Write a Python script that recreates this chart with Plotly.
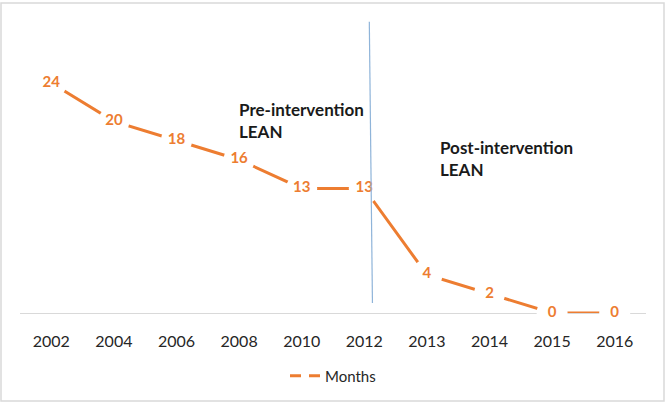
import plotly.graph_objects as go

years = ["2002", "2004", "2006", "2008", "2010", "2012", "2013", "2014", "2015", "2016"]
months = [24, 20, 18, 16, 13, 13, 4, 2, 0, 0]
series_name = "Months"
pre_label = "Pre-intervention<br>LEAN"
post_label = "Post-intervention<br>LEAN"

ORANGE = "#ED7D31"
FONT = "Lato"

fig = go.Figure()

fig.add_trace(go.Scatter(
    x=years, y=months, mode="lines",
    line=dict(color=ORANGE, width=3),
    showlegend=False, hoverinfo="skip",
))
# data labels with white "background" markers covering the line near each point
fig.add_trace(go.Scatter(
    x=years, y=months, mode="markers+text",
    marker=dict(symbol="circle", size=31, color="white", line=dict(width=0)),
    text=[f"<b>{v}</b>" for v in months], textposition="middle center",
    textfont=dict(family=FONT, size=15, color=ORANGE),
    showlegend=False, hoverinfo="skip", cliponaxis=False,
))
# legend entry
fig.add_trace(go.Scatter(
    x=[None], y=[None], mode="lines", name=series_name,
    line=dict(color=ORANGE, width=3, dash="11px,8px"),
))

# intervention divider line
fig.add_shape(type="line", xref="x", yref="y",
              x0=5.08, y0=30.4, x1=5.13, y1=1.05,
              line=dict(color="#8FB4D9", width=1.2))

fig.add_annotation(xref="paper", yref="paper", x=0.3466, y=0.657,
                   text=f"<b>{pre_label}</b>", showarrow=False,
                   xanchor="left", yanchor="middle", align="left",
                   font=dict(family=FONT, size=17, color="#1a1a1a"))
fig.add_annotation(xref="paper", yref="paper", x=0.6677, y=0.5256,
                   text=f"<b>{post_label}</b>", showarrow=False,
                   xanchor="left", yanchor="middle", align="left",
                   font=dict(family=FONT, size=17, color="#1a1a1a"))

# chart border
fig.add_shape(type="rect", xref="paper", yref="paper",
              x0=(1 - 20) / 626, x1=(664 - 20) / 626,
              y0=(313 - 401) / 293, y1=(313 - 3) / 293,
              line=dict(color="#D9D9D9", width=1.5), layer="below")

fig.update_layout(
    width=666, height=407,
    margin=dict(l=20, r=20, t=20, b=94),
    paper_bgcolor="white", plot_bgcolor="white",
    xaxis=dict(type="category", showgrid=False, showline=True,
               linecolor="#D9D9D9", linewidth=1, ticks="", layer="below traces",
               ticklabelstandoff=14,
               tickfont=dict(family=FONT, size=16, color="#262626"),
               range=[-0.5, 9.5], zeroline=False),
    yaxis=dict(range=[0, 30.58], showticklabels=False, showgrid=False,
               zeroline=False, showline=False, ticks=""),
    legend=dict(orientation="h", x=0.5, xanchor="center", y=-0.215, yanchor="middle",
                font=dict(family=FONT, size=15, color="#262626")),
    showlegend=True,
)

fig.write_html("out.html", post_script="document.body.style.margin='0';",
               config={"displayModeBar": False})
